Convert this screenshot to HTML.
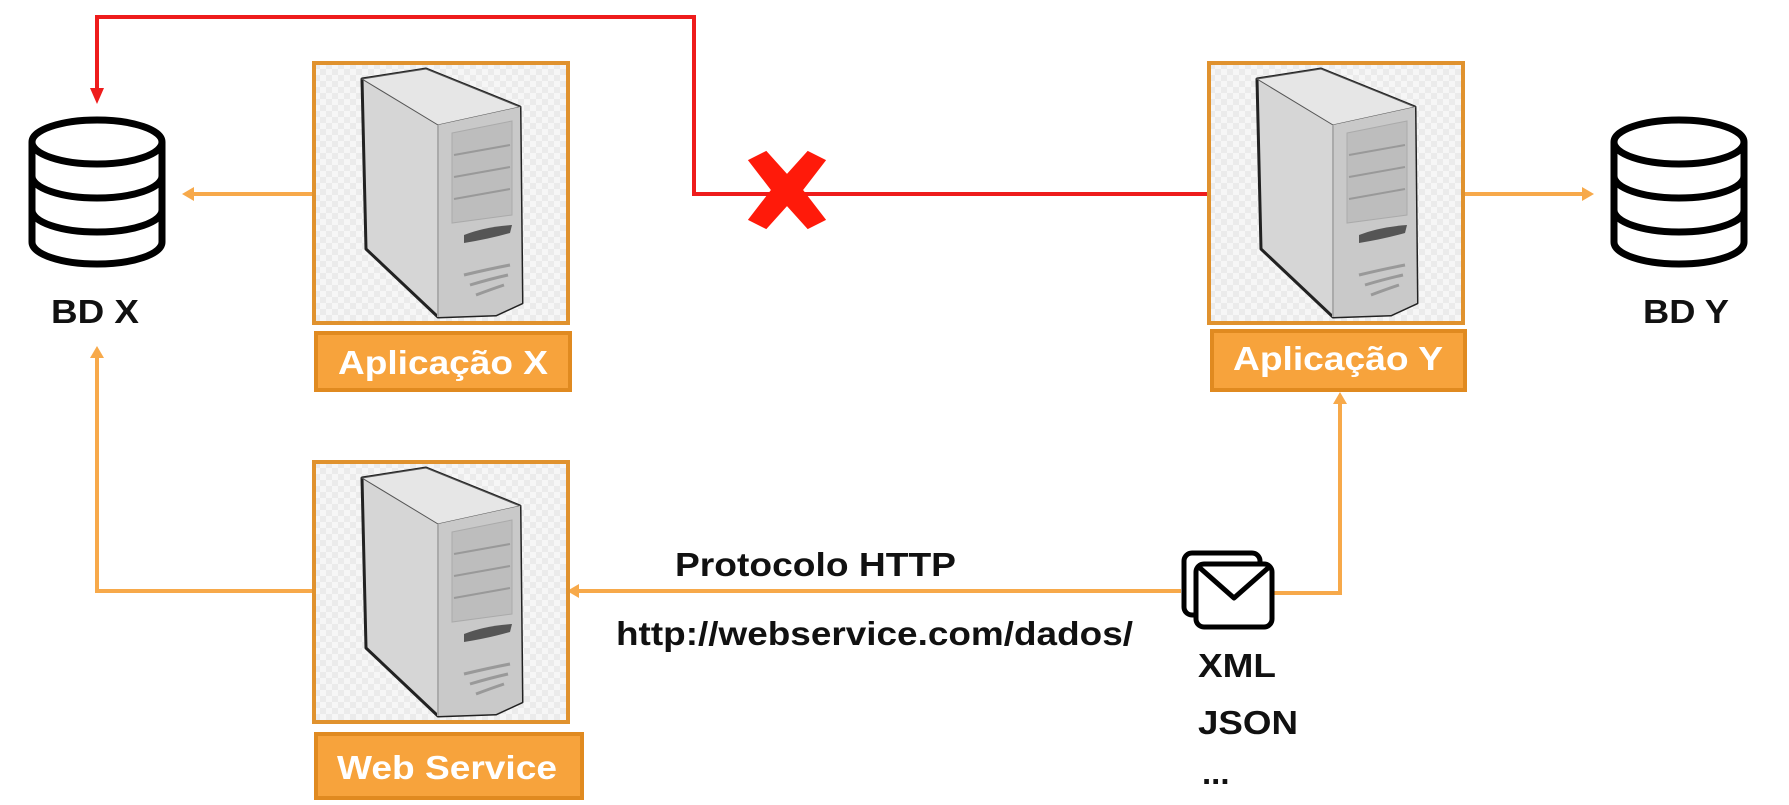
<!DOCTYPE html>
<html><head><meta charset="utf-8"><style>
html,body{margin:0;padding:0;background:#fff;}
svg{display:block;}
text{font-family:"Liberation Sans",Arial,sans-serif;font-weight:bold;}
</style></head><body>
<svg width="1789" height="805" viewBox="0 0 1789 805" xmlns="http://www.w3.org/2000/svg">
<defs>
<pattern id="chk" width="12" height="12" patternUnits="userSpaceOnUse">
<rect width="12" height="12" fill="#f6f6f6"/><rect width="6" height="6" fill="#ebebeb"/><rect x="6" y="6" width="6" height="6" fill="#ebebeb"/>
</pattern>
<g id="srv">
<rect x="0" y="0" width="254" height="260" fill="url(#chk)" stroke="#e0922e" stroke-width="4"/>
<path d="M48 16 L112 6 L206 44 L208 240 L182 252 L124 254 L52 186 Z" fill="#d6d6d6" stroke="#222" stroke-width="3" stroke-linejoin="round"/>
<path d="M48 16 L112 6 L206 44 L124 62 Z" fill="#e6e6e6" stroke="#555" stroke-width="1"/>
<path d="M124 62 L206 44 L208 240 L182 252 L124 254 Z" fill="#c9c9c9"/>
<path d="M124 62 L124 254" stroke="#aaa" stroke-width="2"/>
<path d="M138 70 L198 58 L198 152 L138 160 Z" fill="#bdbdbd" stroke="#aaa"/>
<path d="M140 92 L196 82 M140 114 L196 104 M140 136 L196 126" stroke="#999" stroke-width="2"/>
<path d="M150 172 Q170 164 198 162 L196 170 Q175 176 150 180 Z" fill="#555"/>
<path d="M150 212 Q175 206 196 202 M156 222 Q176 216 194 212 M162 232 Q178 226 190 222" stroke="#999" stroke-width="3" fill="none"/>
</g>
<g id="db">
<path d="M4 26 L4 126 A65 22 0 0 0 134 126 L134 26" fill="#fff" stroke="#000" stroke-width="7"/>
<ellipse cx="69" cy="26" rx="65" ry="22" fill="#fff" stroke="#000" stroke-width="7"/>
<path d="M4 60 A65 22 0 0 0 134 60 M4 94 A65 22 0 0 0 134 94" fill="none" stroke="#000" stroke-width="7"/>
</g>
</defs>

<polyline points="1209,194 694,194 694,17 97,17 97,92" fill="none" stroke="#ee1c1c" stroke-width="4"/>
<polygon points="90,88 104,88 97,104" fill="#ee1c1c"/>
<g transform="translate(787,190) scale(1.15)"><path d="M-34,-26 L-18,-34 L0,-14 L18,-34 L34,-26 L14,0 L34,26 L18,34 L0,14 L-18,34 L-34,26 L-14,0 Z" fill="#ff1a0a"/></g>

<g stroke="#f7a94a" stroke-width="4" fill="none">
<line x1="314" y1="194" x2="190" y2="194"/>
<line x1="1463" y1="194" x2="1585" y2="194"/>
<polyline points="314,591 97,591 97,355"/>
<line x1="1181" y1="591" x2="575" y2="591"/>
<polyline points="1272,593 1340,593 1340,400"/>
</g>
<g fill="#f7a94a">
<polygon points="182,194 194,187 194,201"/>
<polygon points="1594,194 1582,187 1582,201"/>
<polygon points="97,346 90,358 104,358"/>
<polygon points="567,591 579,584 579,598"/>
<polygon points="1340,392 1333,404 1347,404"/>
</g>

<use href="#db" x="28" y="116"/>
<use href="#db" x="1610" y="116"/>
<text x="51" y="323" font-size="33" textLength="88" lengthAdjust="spacingAndGlyphs" fill="#111">BD X</text>
<text x="1643" y="323" font-size="33" textLength="86" lengthAdjust="spacingAndGlyphs" fill="#111">BD Y</text>

<use href="#srv" x="314" y="63"/>
<use href="#srv" x="1209" y="63"/>
<use href="#srv" x="314" y="462"/>

<rect x="316" y="333" width="254" height="57" fill="#f7a33c" stroke="#e08a20" stroke-width="4"/>
<text x="338" y="374" font-size="33" textLength="210" lengthAdjust="spacingAndGlyphs" fill="#fff">Aplicação X</text>
<rect x="1212" y="331" width="253" height="59" fill="#f7a33c" stroke="#e08a20" stroke-width="4"/>
<text x="1233" y="370" font-size="33" textLength="210" lengthAdjust="spacingAndGlyphs" fill="#fff">Aplicação Y</text>
<rect x="316" y="734" width="266" height="64" fill="#f7a33c" stroke="#e08a20" stroke-width="4"/>
<text x="337" y="779" font-size="33" textLength="220" lengthAdjust="spacingAndGlyphs" fill="#fff">Web Service</text>

<rect x="1184" y="553" width="76" height="62" rx="8" fill="#fff" stroke="#000" stroke-width="5"/>
<rect x="1196" y="564" width="76" height="63" rx="8" fill="#fff" stroke="#000" stroke-width="5"/>
<polyline points="1200,568 1234,598 1268,568" fill="none" stroke="#000" stroke-width="5" stroke-linejoin="round"/>

<text x="675" y="576" font-size="33" textLength="281" lengthAdjust="spacingAndGlyphs" fill="#111">Protocolo HTTP</text>
<text x="616" y="645" font-size="33" textLength="517" lengthAdjust="spacingAndGlyphs" fill="#111">http://webservice.com/dados/</text>
<text x="1198" y="677" font-size="33" textLength="78" lengthAdjust="spacingAndGlyphs" fill="#111">XML</text>
<text x="1198" y="734" font-size="33" textLength="100" lengthAdjust="spacingAndGlyphs" fill="#111">JSON</text>
<text x="1202" y="784" font-size="33" fill="#111">...</text>
</svg>
</body></html>
